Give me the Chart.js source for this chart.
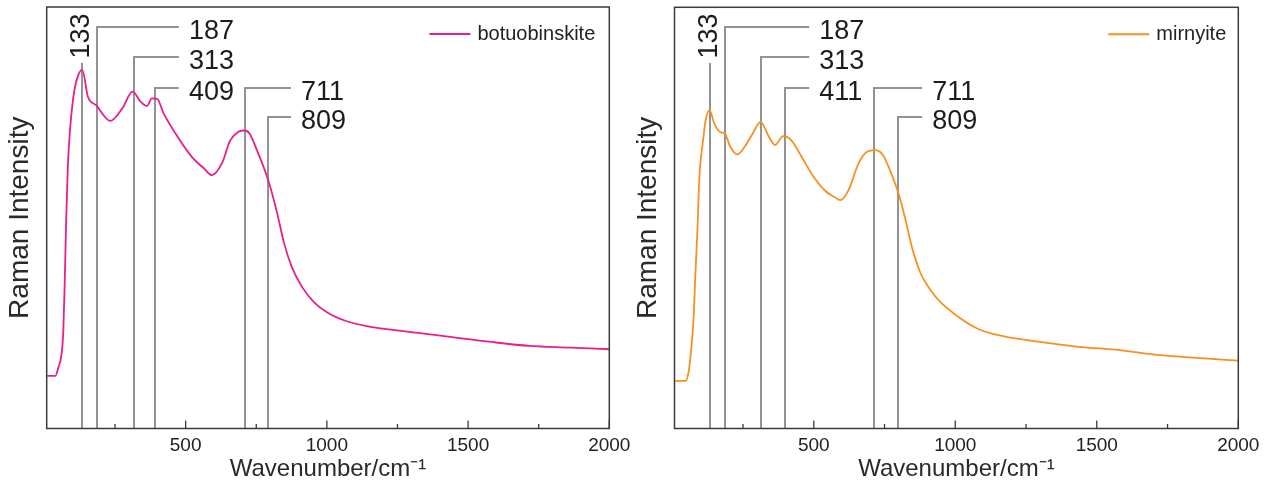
<!DOCTYPE html>
<html>
<head>
<meta charset="utf-8">
<script src="https://cdn.jsdelivr.net/npm/chart.js@4.4.1/dist/chart.umd.min.js"></script>
<style>
  body { margin: 0; background: #fff; }
  #wrap { position: relative; width: 1268px; height: 485px; }
  canvas { position: absolute; top: 0; }
</style>
</head>
<body>
<div id="wrap">
  <canvas id="left" width="640" height="485" style="left:0"></canvas>
  <canvas id="right" width="638" height="485" style="left:630px"></canvas>
</div>
<script>
// spectra (wavenumber, relative intensity 0-100)
const botWave = [10, 39, 49, 60, 67, 72, 77, 83, 92, 106, 120, 134, 154, 183, 233, 276, 312, 341, 363, 380, 399, 421, 463, 521, 565, 593, 629, 658, 687, 709, 726, 752, 792, 824, 848, 876, 912, 954, 1000, 1068, 1141, 1284, 1429, 1574, 1718, 1861, 2000];
const botIntensity = [12.5, 12.5, 14.4, 17.4, 23.4, 35.2, 49.5, 62.5, 72, 80.3, 83.9, 85.1, 78.7, 76.7, 73.0, 76.0, 79.9, 77.5, 76.5, 78.3, 78.2, 74.9, 70.1, 64.5, 61.7, 60.1, 63.0, 68.4, 70.4, 70.7, 70.0, 66.1, 59.0, 51.1, 44.1, 38.3, 33.6, 30.0, 27.6, 25.5, 24.3, 23.0, 21.8, 20.6, 19.6, 19.2, 18.8];

const mirWave = [10, 47, 58, 65, 75, 82, 89, 96, 109, 118, 132, 148, 169, 186, 205, 230, 256, 284, 312, 342, 363, 392, 421, 457, 500, 544, 572, 594, 623, 658, 688, 716, 745, 774, 803, 826, 848, 876, 911, 946, 1003, 1076, 1148, 1292, 1436, 1580, 1724, 1868, 2000];
const mirIntensity = [11.3, 11.3, 13.5, 17.4, 25.7, 36.9, 47.1, 59.7, 68.4, 73.2, 75.6, 72.5, 70.4, 70.0, 66.9, 65.1, 66.9, 70.0, 72.8, 69.2, 67.3, 69.4, 68.4, 64.5, 59.7, 56.2, 55.0, 54.2, 56.6, 62.9, 65.7, 66.1, 64.9, 60.5, 55.0, 49.0, 42.8, 37.1, 33.0, 30.1, 26.9, 23.8, 22.2, 20.6, 19.4, 18.6, 17.4, 16.7, 16.1];

// peak markers
const botPeakLabels = ['133', '187', '313', '409', '711', '809'];
const botPeakLines = [134, 186, 316, 392, 709, 790];
const mirPeakLabels = ['133', '187', '313', '411', '711', '809'];
const mirPeakLines = [134, 187, 315, 400, 713, 796];
const peakLevels = [86.7, 95.3, 88.1, 80.9, 80.9, 74.0];
const botLegEnds = [null, 476, 476, 476, 873, 873];
const mirLegEnds = [null, 484, 484, 484, 883, 883];

const xTickLabels = [500, 1000, 1500, 2000];
const xMinorTicks = [250, 750, 1250, 1750];

const FONT = "Arial, 'Liberation Sans', sans-serif";
Chart.defaults.font.family = FONT;
Chart.defaults.color = "#222";

// grey peak lines with their labels, under the spectrum
const peakMarks = {
  id: "peakMarks",
  beforeDatasetsDraw(chart, args, opts) {
    const { ctx, scales: { x, y } } = chart;
    const bottom = y.getPixelForValue(y.min);
    ctx.save();
    ctx.strokeStyle = "#939393";
    ctx.lineWidth = 2;
    ctx.fillStyle = "#1c1c1c";
    ctx.font = "27px " + FONT;
    ctx.textBaseline = "alphabetic";
    opts.lines.forEach((pos, i) => {
      const px = Math.round(x.getPixelForValue(pos));
      const top = Math.round(y.getPixelForValue(opts.levels[i]));
      ctx.beginPath();
      ctx.moveTo(px, bottom);
      ctx.lineTo(px, top);
      const end = opts.legEnds[i];
      if (end !== null) {
        const ex = x.getPixelForValue(end);
        ctx.lineTo(ex, top);
        ctx.stroke();
        ctx.textAlign = "left";
        ctx.fillText(opts.labels[i], ex + 10, top + 12);
      } else {
        ctx.stroke();
        ctx.save();
        ctx.translate(px + 7, top - 27);
        ctx.rotate(-Math.PI / 2);
        ctx.textAlign = "center";
        ctx.fillText(opts.labels[i], 0, 0);
        ctx.restore();
      }
    });
    ctx.restore();
  },
};

// box round the plot, inward x ticks and the legend in the top right corner
const frame = {
  id: "frame",
  afterDraw(chart, args, opts) {
    const { ctx, chartArea: a, scales: { x } } = chart;
    ctx.save();
    ctx.strokeStyle = "#3a3a3a";
    ctx.lineWidth = 1.5;
    ctx.strokeRect(a.left, a.top, a.right - a.left, a.bottom - a.top);
    ctx.lineWidth = 1.3;
    ctx.beginPath();
    xTickLabels.forEach((v) => {
      const px = x.getPixelForValue(v);
      ctx.moveTo(px, a.bottom);
      ctx.lineTo(px, a.bottom - 8);
    });
    xMinorTicks.forEach((v) => {
      const px = x.getPixelForValue(v);
      ctx.moveTo(px, a.bottom);
      ctx.lineTo(px, a.bottom - 4.5);
    });
    ctx.stroke();

    const ds = chart.data.datasets[0];
    ctx.font = "20px " + FONT;
    ctx.textBaseline = "middle";
    ctx.textAlign = "right";
    ctx.fillStyle = "#222";
    const tx = a.right - opts.right;
    const ty = a.top + 27;
    ctx.fillText(ds.label, tx, ty);
    const tw = ctx.measureText(ds.label).width;
    ctx.strokeStyle = ds.borderColor;
    ctx.lineWidth = 2;
    ctx.beginPath();
    ctx.moveTo(tx - tw - 7, ty);
    ctx.lineTo(tx - tw - 48, ty);
    ctx.stroke();
    ctx.restore();
  },
};

function makeChart(id, wave, intensity, color, name, labels, lines, legEnds, yWidth, yPad, padRight, padTop, legendRight) {
  const points = wave.map((w, i) => ({ x: w, y: intensity[i] }));
  return new Chart(document.getElementById(id), {
    type: "line",
    data: {
      datasets: [
        {
          label: name,
          data: points,
          borderColor: color,
          borderWidth: 1.8,
          pointRadius: 0,
          cubicInterpolationMode: "monotone",
        },
      ],
    },
    options: {
      responsive: false,
      animation: false,
      layout: { padding: { left: 0, right: padRight, top: padTop, bottom: 0 } },
      scales: {
        x: {
          type: "linear",
          min: 8,
          max: 2000,
          grid: { display: false, drawTicks: false },
          border: { display: false },
          afterBuildTicks: (s) => {
            s.ticks = xTickLabels.map((v) => ({ value: v }));
          },
          afterFit: (s) => {
            s.height = 56.5;
          },
          ticks: { font: { size: 19 }, color: "#222", padding: 6, callback: (v) => String(v) },
          title: {
            display: true,
            text: "Wavenumber/cm\u207B\u00B9",
            font: { size: 24 },
            color: "#2a2a2a",
            padding: { top: 0, bottom: 1 },
          },
        },
        y: {
          min: 0,
          max: 100,
          grid: { display: false, drawTicks: false },
          border: { display: false },
          ticks: { display: false },
          afterFit: (s) => {
            s.width = yWidth;
          },
          title: {
            display: true,
            text: "Raman Intensity",
            font: { size: 28 },
            color: "#2a2a2a",
            padding: { top: yPad, bottom: 0 },
          },
        },
      },
      plugins: {
        legend: { display: false },
        tooltip: { enabled: false },
        peakMarks: { labels: labels, lines: lines, levels: peakLevels, legEnds: legEnds },
        frame: { right: legendRight },
      },
    },
    plugins: [peakMarks, frame],
  });
}

makeChart("left", botWave, botIntensity, "#ea1e8a", "botuobinskite", botPeakLabels, botPeakLines, botLegEnds, 46.7, 3, 30.7, 7, 14);
makeChart("right", mirWave, mirIntensity, "#f7901e", "mirnyite", mirPeakLabels, mirPeakLines, mirLegEnds, 44.5, 1, 29.7, 7.3, 12);
</script>
</body>
</html>
